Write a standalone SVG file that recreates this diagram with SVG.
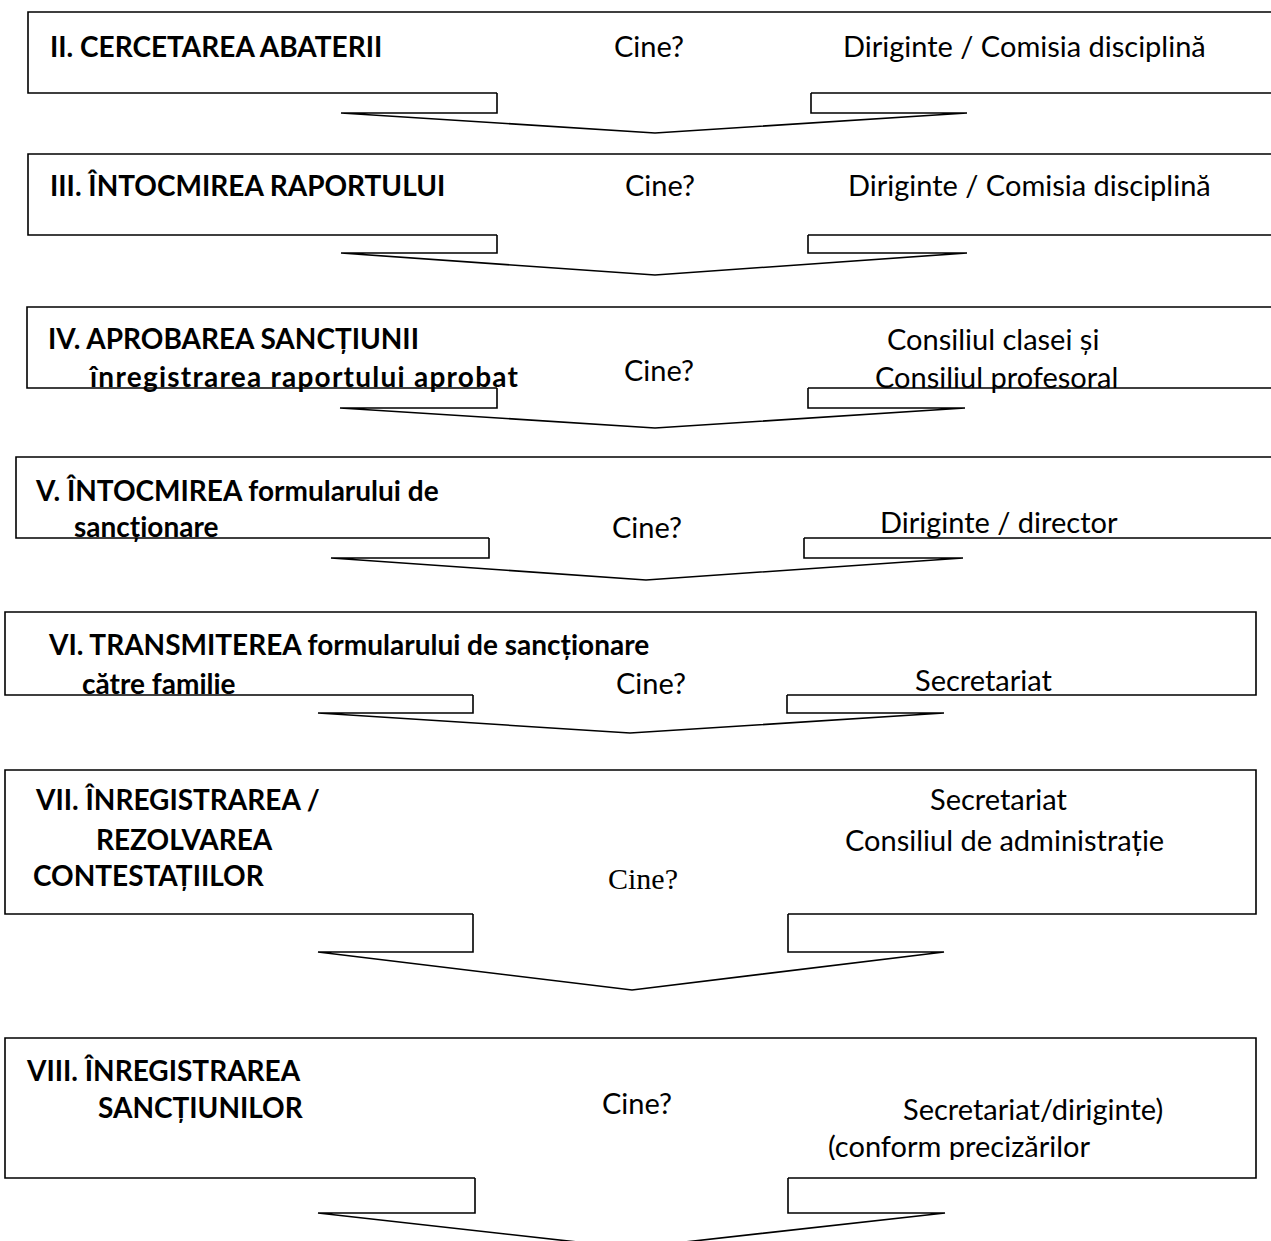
<svg xmlns="http://www.w3.org/2000/svg" width="1271" height="1241" viewBox="0 0 1271 1241">
<style>
.ln{fill:none;stroke:#000;stroke-width:1.6}
text{font-family:Lato,"Liberation Sans",sans-serif;font-size:29px;fill:#000}
.b{font-weight:bold;font-size:28px}
.s{font-family:"Liberation Serif",serif;font-size:30px}
</style>
<defs>
<clipPath id="clip8"><rect x="0" y="1000" width="1271" height="160"/></clipPath>
</defs>
<rect width="1271" height="1241" fill="#fff"/>
<g id="node-2">
<path class="ln" d="M1275 12 H28 V93 H497 M811 93 H1275"/>
<text class="b" x="50" y="57">II. CERCETAREA ABATERII</text>
<text x="614" y="57">Cine?</text>
<text x="843" y="57">Diriginte / Comisia disciplină</text>
</g>
<g id="node-3">
<path class="ln" d="M1275 154 H28 V235 H497 M808 235 H1275"/>
<text class="b" x="50" y="196">III. ÎNTOCMIREA RAPORTULUI</text>
<text x="625" y="196">Cine?</text>
<text x="848" y="196">Diriginte / Comisia disciplină</text>
</g>
<g id="node-4">
<path class="ln" d="M1275 307 H27 V388 H497 M808 388 H1275"/>
<text class="b" x="48" y="349">IV. APROBAREA SANCȚIUNII</text>
<text class="b" x="90" y="387" textLength="428">înregistrarea raportului aprobat</text>
<text x="624" y="381">Cine?</text>
<text x="887" y="350">Consiliul clasei și</text>
<text x="875" y="388">Consiliul profesoral</text>
</g>
<g id="node-5">
<path class="ln" d="M1275 457 H16 V538 H489 M804 538 H1275"/>
<text class="b" x="36" y="501">V. ÎNTOCMIREA formularului de</text>
<text class="b" x="74" y="537">sancționare</text>
<text x="612" y="538">Cine?</text>
<text x="880" y="533">Diriginte / director</text>
</g>
<g id="node-6">
<path class="ln" d="M787 695 H1256 V612 H5 V695 H473"/>
<text class="b" x="49" y="655">VI. TRANSMITEREA formularului de sancționare</text>
<text class="b" x="82" y="694">către familie</text>
<text x="616" y="694">Cine?</text>
<text x="915" y="691">Secretariat</text>
</g>
<g id="node-7">
<path class="ln" d="M788 914 H1256 V770 H5 V914 H473"/>
<text class="b" x="36" y="810">VII. ÎNREGISTRAREA /</text>
<text class="b" x="96" y="850">REZOLVAREA</text>
<text class="b" x="33" y="886">CONTESTAȚIILOR</text>
<text class="s" x="608" y="889">Cine?</text>
<text x="930" y="810">Secretariat</text>
<text x="845" y="851">Consiliul de administrație</text>
</g>
<g id="node-8">
<path class="ln" d="M788 1178 H1256 V1038 H5 V1178 H475"/>
<text class="b" x="27" y="1081">VIII. ÎNREGISTRAREA</text>
<text class="b" x="98" y="1118">SANCȚIUNILOR</text>
<text x="602" y="1114">Cine?</text>
<text x="903" y="1120">Secretariat/diriginte)</text>
<text x="828" y="1157" clip-path="url(#clip8)">(conform precizărilor</text>
</g>
<g id="connectors">
<path class="ln" d="M497 93 V113 H341 L655 133 L967 113 H811 V93"/>
<path class="ln" d="M497 235 V253 H341 L655 275 L967 253 H808 V235"/>
<path class="ln" d="M497 388 V408 H340 L655 428 L965 408 H808 V388"/>
<path class="ln" d="M489 538 V558 H331 L646 580 L963 558 H804 V538"/>
<path class="ln" d="M473 695 V713 H318 L630 733 L944 713 H787 V695"/>
<path class="ln" d="M473 914 V952 H318 L632 990 L944 952 H788 V914"/>
<path class="ln" d="M475 1178 V1213 H318 L631 1248 L945 1213 H788 V1178"/>
</g>
</svg>
